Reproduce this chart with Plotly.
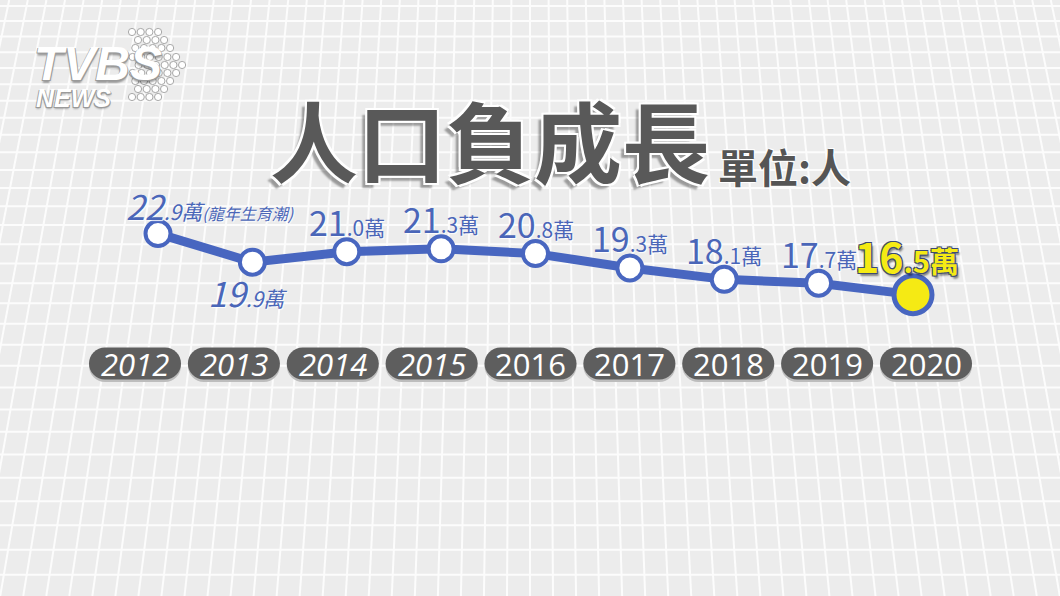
import plotly.graph_objects as go

# ---------------- data ----------------
years = [2012, 2013, 2014, 2015, 2016, 2017, 2018, 2019, 2020]
births_wan = [22.9, 19.9, 21.0, 21.3, 20.8, 19.3, 18.1, 17.7, 16.5]   # 萬人
notes = ["(龍年生育潮)", "", "", "", "", "", "", "", ""]
year_labels = ["2012", "2013", "2014", "2015", "2016", "2017", "2018", "2019", "2020"]
title_text = "人口負成長"
unit_text = "單位:人"

# ---------------- style ----------------
W, H = 1060, 596
BLUE = "#4866c0"
LABEL_BLUE = "#4a66b8"
YELLOW = "#f5ea14"
PILL = "#5e5e5e"
BG = "#ececec"
CJK = "Noto Sans CJK TC"

fig = go.Figure()

# main line
n = len(years)
fig.add_trace(go.Scatter(
    x=years, y=births_wan, mode="lines+markers",
    line=dict(color=BLUE, width=9),
    marker=dict(size=[25] * (n - 1) + [38], opacity=1,
                color=["white"] * (n - 1) + [YELLOW],
                line=dict(color=BLUE, width=[4] * (n - 1) + [5])),
    hoverinfo="skip", showlegend=False))

# helper trace for the year-pill axis
fig.add_trace(go.Scatter(x=years, y=[None] * n, xaxis="x2", mode="markers",
                         hoverinfo="skip", showlegend=False))

shapes = []
annotations = []

# ---------- background perspective grid ----------
cx = 530.0
a = 0.0004
for k in range(-40, 41):
    xt = cx + k * 18.6
    xb = cx + (xt - cx) * (1 + a * H)
    if max(xt, xb) < -5 or min(xt, xb) > W + 5:
        continue
    shapes.append(dict(type="line", xref="paper", yref="paper",
                       x0=xt / W, y0=1, x1=xb / W, y1=0,
                       line=dict(color="#fcfcfc", width=2), layer="below"))
yy = 6.0
while yy < H:
    shapes.append(dict(type="line", xref="paper", yref="paper",
                       x0=0, y0=1 - yy / H, x1=1, y1=1 - yy / H,
                       line=dict(color="#fcfcfc", width=2), layer="below"))
    yy += 15 * (1 + 0.0012 * yy)

# ---------- logo dots ----------
row_y = [32, 40, 48, 57, 65, 73, 81, 89, 97]
for i, ry in enumerate(row_y):
    off = 4 - abs(i - 4)
    for j in range(-2, 4):
        dx = 132 + off * 6.0 + j * 8.7
        if j < 0 and off < 2:
            continue
        if j < 0 and dx < 128:
            continue
        shapes.append(dict(type="circle", xref="paper", yref="paper",
                           x0=(dx - 3.6) / W, x1=(dx + 3.6) / W,
                           y0=1 - (ry + 3.6) / H, y1=1 - (ry - 3.6) / H,
                           fillcolor="white", line=dict(color="#a8a8a8", width=1),
                           layer="below"))

# ---------- year pills ----------
r = 16
hw = 46
kk = 0.552 * r
pill_path = (f"M {-hw + r},{-r} L {hw - r},{-r} "
             f"C {hw - r + kk},{-r} {hw},{-kk} {hw},0 "
             f"C {hw},{kk} {hw - r + kk},{r} {hw - r},{r} "
             f"L {-hw + r},{r} "
             f"C {-hw + r - kk},{r} {-hw},{kk} {-hw},0 "
             f"C {-hw},{-kk} {-hw + r - kk},{-r} {-hw + r},{-r} Z")
pill_y = 1 - 366 / H
for i, yr in enumerate(years):
    shapes.append(dict(type="path", xref="x2", yref="paper",
                       xsizemode="pixel", ysizemode="pixel",
                       xanchor=yr, yanchor=pill_y,
                       path=pill_path,
                       fillcolor="#bdbdbd", line=dict(width=0), layer="below"))
for i, yr in enumerate(years):
    shapes.append(dict(type="path", xref="x2", yref="paper",
                       xsizemode="pixel", ysizemode="pixel",
                       xanchor=yr, yanchor=pill_y + 2.5 / H,
                       path=pill_path,
                       fillcolor=PILL, line=dict(width=0), layer="below"))
    italic = i < 4
    annotations.append(dict(
        x=yr, y=pill_y + 2.5 / H, xref="x2", yref="paper",
        text=year_labels[i], showarrow=False,
        font=dict(family="Open Sans", size=31, color="white",
                  style="italic" if italic else "normal"),
        xanchor="center", yanchor="middle"))

# ---------- value labels ----------
label_pos = {  # (xshift, yshift, xanchor)
    0: (-34, 28, "left"),
    1: (-5, -30, "center"),
}
for i, (yr, v) in enumerate(zip(years, births_wan)):
    s = f"{v:.1f}"
    ip, dp = s.split(".")
    last = i == n - 1
    if last:
        text = (f"<b>{ip}<span style='font-size:29px'>.{dp}萬</span></b>")
        font = dict(family=CJK, size=41, color=YELLOW,
                    shadow="1px 1px 0 #3d4a70, -1px -1px 0 #3d4a70, 1px -1px 0 #3d4a70, "
                           "-1px 1px 0 #3d4a70, 2px 3px 2px rgba(0,0,0,0.45)")
        xs, ys, xa = -6, 40, "center"
    else:
        italic = i < 2
        body = f"{ip}<span style='font-size:21px'>.{dp}萬</span>"
        if notes[i]:
            body += f"<span style='font-size:16px'>{notes[i]}</span>"
        text = f"<i>{body}</i>" if italic else body
        font = dict(family=CJK, size=34, color=LABEL_BLUE,
                    shadow="1px 1px 1px rgba(255,255,255,0.9)")
        xs, ys, xa = label_pos.get(i, (0, 30, "center"))
    annotations.append(dict(x=yr, y=v, xref="x", yref="y", text=text,
                            showarrow=False, xanchor=xa, yanchor="middle",
                            xshift=xs, yshift=ys, font=font))

# ---------- title ----------
annotations.append(dict(
    x=490 / W, y=1 - 138 / H, xref="paper", yref="paper",
    text=f"<b>{title_text}</b>", showarrow=False, xanchor="center", yanchor="middle",
    font=dict(family=CJK, size=88, color="#595959",
              shadow="-2px 2px 0 #fff, 2px -2px 0 #fff, 2px 2px 0 #fff, -2px -2px 0 #fff, "
                     "-5px 5px 2px rgba(0,0,0,0.35)")))
annotations.append(dict(
    x=716 / W, y=1 - 166 / H, xref="paper", yref="paper",
    text=f"<b>{unit_text}</b>", showarrow=False, xanchor="left", yanchor="middle",
    font=dict(family=CJK, size=40, color="#555555",
              shadow="-1px 1px 0 #fff, 1px -1px 0 #fff")))

# ---------- logo text ----------
annotations.append(dict(
    x=32 / W, y=1 - 63 / H, xref="paper", yref="paper",
    text="<b><i>TVBS</i></b>", showarrow=False, xanchor="left", yanchor="middle",
    font=dict(family="Liberation Sans", size=48, color="white",
              shadow="-1px 1px 0 #9a9a9a, 1px 1px 0 #9a9a9a, 0 3px 2px rgba(0,0,0,0.35)")))
annotations.append(dict(
    x=34 / W, y=1 - 98 / H, xref="paper", yref="paper",
    text="<b><i>NEWS</i></b>", showarrow=False, xanchor="left", yanchor="middle",
    font=dict(family="Liberation Sans", size=25, color="white",
              shadow="-1px 1px 0 #9a9a9a, 1px 1px 0 #9a9a9a, 0 2px 2px rgba(0,0,0,0.3)")))

# ---------- axes ----------
sx = 94.375
x0 = 2012 - 158 / sx
sx2 = 98.875
x02 = 2012 - 135 / sx2
slope = 9.54
y_top = 19.722 + 263.89 / slope
y_bot = 19.722 - (H - 263.89) / slope

fig.update_layout(
    width=W, height=H,
    margin=dict(l=0, r=0, t=0, b=0),
    paper_bgcolor=BG, plot_bgcolor="rgba(0,0,0,0)",
    xaxis=dict(range=[x0, x0 + W / sx], visible=False, domain=[0, 1], fixedrange=True),
    xaxis2=dict(range=[x02, x02 + W / sx2], visible=False, overlaying="x",
                domain=[0, 1], fixedrange=True),
    yaxis=dict(range=[y_bot, y_top], visible=False, domain=[0, 1], fixedrange=True),
    shapes=shapes, annotations=annotations,
    showlegend=False,
)

fig.write_html("out.html", config={"displayModeBar": False},
               post_script="document.body.style.margin='0px';document.body.style.overflow='hidden';")
